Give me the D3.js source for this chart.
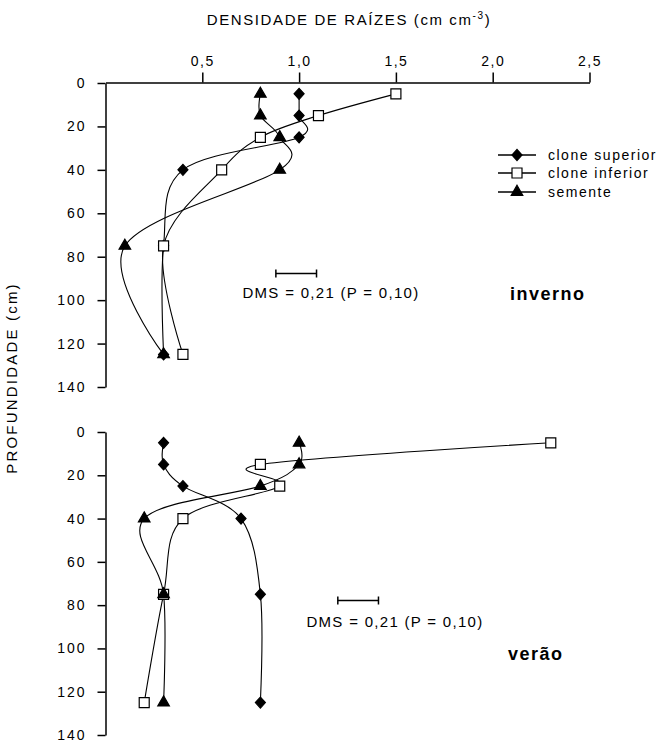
<!DOCTYPE html>
<html>
<head>
<meta charset="utf-8">
<script src="https://cdn.jsdelivr.net/npm/d3@7"></script>
<style>
  body { margin: 0; background: #fff; }
  svg text { font-family: "Liberation Sans", Arial, sans-serif; fill: #000; }
</style>
</head>
<body>
<svg id="chart" width="668" height="744"></svg>
<script>
// depths (cm) and root density values
const depths = [5, 15, 25, 40, 75, 125];
const seriesNames = ["clone superior", "clone inferior", "semente"];

const invernoSuperior = [1.0, 1.0, 1.0, 0.4, 0.3, 0.3];
const invernoInferior = [1.5, 1.1, 0.8, 0.6, 0.3, 0.4];
const invernoSemente  = [0.8, 0.8, 0.9, 0.9, 0.1, 0.3];

const veraoSuperior = [0.3, 0.3, 0.4, 0.7, 0.8, 0.8];
const veraoInferior = [2.3, 0.8, 0.9, 0.4, 0.3, 0.2];
const veraoSemente  = [1.0, 1.0, 0.8, 0.2, 0.3, 0.3];

const xTicks = [0.5, 1.0, 1.5, 2.0, 2.5];
const yTicks = [0, 20, 40, 60, 80, 100, 120, 140];
const dms = 0.21;

const svg = d3.select("#chart");
const fmt = d => d3.format(".1f")(d).replace(".", ",");

const x = d3.scaleLinear().domain([0, 2.5]).range([105.5, 589.5]);

const panels = [
  { name: "inverno", top: 83, bottom: 387, series: [invernoSuperior, invernoInferior, invernoSemente],
    dmsStart: 0.88, dmsDepth: 87.5, dmsText: [331, 298], label: [510, 300], xAxis: true },
  { name: "verão", top: 432, bottom: 735, series: [veraoSuperior, veraoInferior, veraoSemente],
    dmsStart: 1.2, dmsDepth: 77.5, dmsText: [395, 627], label: [508, 660], xAxis: false }
];

// diamond symbol a bit taller than wide, like the original
const diamond = {
  draw(ctx, size) {
    const w = Math.sqrt(size) / 2, h = w * 1.1;
    ctx.moveTo(0, -h); ctx.lineTo(w, 0); ctx.lineTo(0, h); ctx.lineTo(-w, 0); ctx.closePath();
  }
};
const symbols = [
  { type: diamond, size: 100, fill: "#000" },
  { type: d3.symbolSquare, size: 100, fill: "#fff" },
  { type: d3.symbolTriangle, size: 58, fill: "#000" }
];

panels.forEach(p => {
  const y = d3.scaleLinear().domain([0, 140]).range([p.top, p.bottom]);
  const g = svg.append("g");

  // y axis
  const ya = g.append("g").attr("transform", "translate(105.5,0)")
    .call(d3.axisLeft(y).tickValues(yTicks).tickSize(8).tickSizeOuter(0).tickPadding(11));
  ya.selectAll("text").style("font-size", "14px").style("letter-spacing", "2px");

  if (p.xAxis) {
    const xa = g.append("g").attr("transform", `translate(0,${p.top - 0.5})`)
      .call(d3.axisTop(x).tickValues(xTicks).tickFormat(fmt).tickSize(10).tickSizeOuter(0).tickPadding(7));
    xa.selectAll("text").style("font-size", "14px").style("letter-spacing", "1.5px");
  }
  g.selectAll(".domain, .tick line").attr("stroke", "#000").attr("stroke-width", 1.5);

  const line = d3.line()
    .x(d => x(d[0]))
    .y(d => y(d[1]))
    .curve(d3.curveCatmullRom.alpha(0));

  p.series.forEach((vals, i) => {
    const pts = vals.map((v, k) => [v, depths[k]]);
    g.append("path").datum(pts)
      .attr("d", line).attr("fill", "none").attr("stroke", "#000").attr("stroke-width", 1.1);
  });
  p.series.forEach((vals, i) => {
    const s = symbols[i];
    g.selectAll(null).data(vals.map((v, k) => [v, depths[k]])).join("path")
      .attr("transform", d => `translate(${x(d[0])},${y(d[1])})`)
      .attr("d", d3.symbol().type(s.type).size(s.size))
      .attr("fill", s.fill).attr("stroke", "#000").attr("stroke-width", 1.2);
  });

  // DMS bar
  const by = Math.round(y(p.dmsDepth)) + 0.5;
  const x1 = x(p.dmsStart), x2 = x(p.dmsStart + dms);
  g.append("path")
    .attr("d", `M${x1},${by}H${x2}M${x1},${by - 4}V${by + 4}M${x2},${by - 4}V${by + 4}`)
    .attr("stroke", "#000").attr("stroke-width", 1.5).attr("fill", "none");
  g.append("text").attr("x", p.dmsText[0]).attr("y", p.dmsText[1])
    .attr("text-anchor", "middle").style("font-size", "15px").style("letter-spacing", "1.3px")
    .text("DMS = 0,21 (P = 0,10)");

  g.append("text").attr("x", p.label[0]).attr("y", p.label[1])
    .style("font-size", "18px").style("font-weight", "bold").style("letter-spacing", "1.5px")
    .text(p.name);
});

// title
const title = svg.append("text").attr("x", 349).attr("y", 25).attr("text-anchor", "middle")
  .style("font-size", "15px").style("letter-spacing", "1.6px");
title.append("tspan").text("DENSIDADE DE RAÍZES (cm cm");
title.append("tspan").attr("dy", -6).style("font-size", "10px").text("-3");
title.append("tspan").attr("dy", 6).text(")");

// y title
svg.append("text").attr("transform", "translate(17,378) rotate(-90)").attr("text-anchor", "middle")
  .style("font-size", "15px").style("letter-spacing", "2.2px")
  .text("PROFUNDIDADE (cm)");

// legend
const legend = svg.append("g");
seriesNames.forEach((name, i) => {
  const ly = [155, 173, 192][i];
  const s = symbols[i];
  legend.append("line").attr("x1", 498).attr("x2", 536).attr("y1", ly).attr("y2", ly)
    .attr("stroke", "#000").attr("stroke-width", 1.5);
  legend.append("path").attr("transform", `translate(517,${ly})`)
    .attr("d", d3.symbol().type(s.type).size(s.size))
    .attr("fill", s.fill).attr("stroke", "#000").attr("stroke-width", 1.2);
  legend.append("text").attr("x", 548).attr("y", ly + 5)
    .style("font-size", "14px").style("letter-spacing", "1.5px").text(name);
});
</script>
</body>
</html>
